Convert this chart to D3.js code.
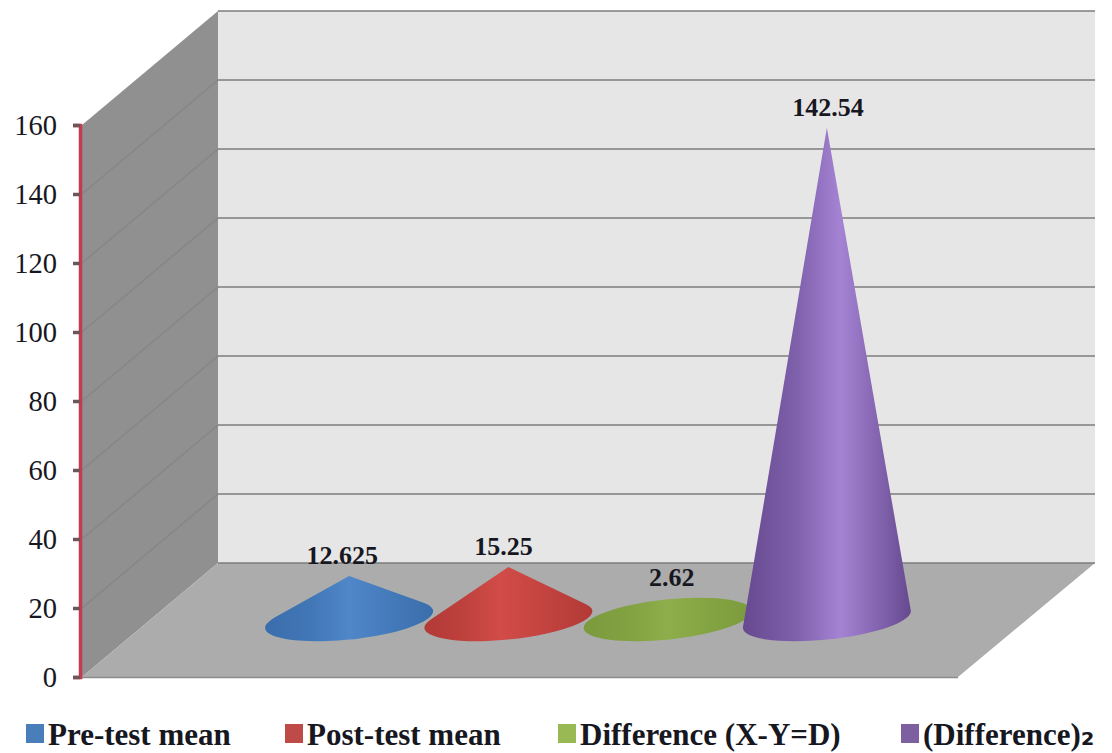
<!DOCTYPE html>
<html>
<head>
<meta charset="utf-8">
<script src="https://cdn.jsdelivr.net/npm/d3@7"></script>
<style>
  html, body { margin: 0; background: #fff; }
  svg { display: block; }
  text { font-family: "Liberation Serif", serif; fill: #17171f; }
  .tick-label { font-size: 28.5px; }
  .value-label { font-size: 26px; font-weight: bold; }
  .legend-label { font-size: 31px; font-weight: bold; }
  .legend-sub { font-family: "DejaVu Sans", sans-serif; }
</style>
</head>
<body>
<svg></svg>
<script>
const seriesNames = ['Pre-test mean', 'Post-test mean', 'Difference (X-Y=D)', '(Difference)₂'];
const seriesValues = [12.625, 15.25, 2.62, 142.54];
const valueLabels = ['12.625', '15.25', '2.62', '142.54'];
const yTicks = [0, 20, 40, 60, 80, 100, 120, 140, 160];

const edgeColors = ['#3a6dab', '#b23a37', '#7a9a3c', '#66498f'];
const midColors = ['#4f87c9', '#d24c48', '#8eae4b', '#a583d4'];
const swatchColors = ['#4a7ebb', '#be4b48', '#98b954', '#7d60a0'];
const highlightAt = [50, 45, 50, 58];
const labelNudge = [-7, -5, 4, 1];
const legendLeft = [26, 285, 558, 901];

const svgWidth = 1112;
const svgHeight = 753;

const svg = d3.select('svg')
    .attr('width', svgWidth)
    .attr('height', svgHeight);

// the value scale at the three depths of the box
const yFront = d3.scaleLinear().domain([0, 160]).range([677, 125]);
const yBack = d3.scaleLinear().domain([0, 160]).range([563, 11]);
const yMid = d3.scaleLinear().domain([0, 160]).range([619.5, 67.5]);

const frontLeft = 82;
const frontRight = 958;
const backLeft = 218;
const backRight = 1095;

const xScale = d3.scaleBand()
    .domain(seriesNames)
    .range([269.5, 906.5]);

const polygon = (pts) => 'M' + pts.join('L') + 'Z';

// side wall
svg.append('path')
    .attr('d', polygon([
      [frontLeft, yFront(160)], [backLeft, yBack(160)],
      [backLeft, yBack(0)], [frontLeft, yFront(0)]
    ]))
    .attr('fill', '#909090');

// back wall
svg.append('path')
    .attr('d', polygon([
      [backLeft, yBack(160)], [backRight, yBack(160)],
      [backRight, yBack(0)], [backLeft, yBack(0)]
    ]))
    .attr('fill', '#e6e6e6');

// floor
svg.append('path')
    .attr('d', polygon([
      [frontLeft, yFront(0)], [backLeft, yBack(0)],
      [backRight, yBack(0)], [frontRight, yFront(0)]
    ]))
    .attr('fill', '#acacac');

svg.append('line')
    .attr('x1', frontLeft)
    .attr('x2', frontRight)
    .attr('y1', yFront(0) + 0.5)
    .attr('y2', yFront(0) + 0.5)
    .attr('stroke', '#8c8c8c')
    .attr('stroke-width', 1.5);

// gridlines
svg.selectAll('.side-grid')
    .data(yTicks.slice(1, -1))
    .enter()
    .append('line')
    .attr('class', 'side-grid')
    .attr('x1', frontLeft)
    .attr('y1', (d) => yFront(d))
    .attr('x2', backLeft)
    .attr('y2', (d) => yBack(d))
    .attr('stroke', '#868686')
    .attr('stroke-width', 1.5);

svg.selectAll('.back-grid')
    .data(yTicks)
    .enter()
    .append('line')
    .attr('class', 'back-grid')
    .attr('x1', backLeft)
    .attr('y1', (d) => yBack(d))
    .attr('x2', backRight)
    .attr('y2', (d) => yBack(d))
    .attr('stroke', '#7d7d7d')
    .attr('stroke-width', 1.6);

// y axis
const yAxis = svg.append('g')
    .attr('transform', 'translate(80, 0)')
    .call(d3.axisLeft(yFront).tickValues(yTicks).tickSize(7).tickPadding(16).tickFormat(d3.format('d')));

yAxis.select('.domain')
    .attr('stroke', '#c23b4e')
    .attr('stroke-width', 3.5);

yAxis.selectAll('.tick line')
    .attr('stroke', '#6e5558')
    .attr('stroke-width', 3.5);

yAxis.selectAll('.tick text')
    .attr('class', 'tick-label');

yAxis.attr('font-size', null).attr('font-family', null);

// cones
const defs = svg.append('defs');

seriesNames.forEach((name, i) => {
  const grad = defs.append('linearGradient')
      .attr('id', 'cone' + i)
      .attr('x1', '0%')
      .attr('x2', '100%')
      .attr('y1', '0%')
      .attr('y2', '0%');
  grad.append('stop').attr('offset', '0%').attr('stop-color', edgeColors[i]);
  grad.append('stop').attr('offset', (highlightAt[i] * 0.55) + '%')
      .attr('stop-color', d3.interpolateRgb(edgeColors[i], midColors[i])(0.4));
  grad.append('stop').attr('offset', highlightAt[i] + '%').attr('stop-color', midColors[i]);
  grad.append('stop').attr('offset', '100%').attr('stop-color', edgeColors[i]);
});

const baseRx = xScale.bandwidth() * 0.53;
const baseRy = 20;
const tilt = 6 * Math.PI / 180;

function conePath(name, value) {
  const cx = xScale(name) + xScale.bandwidth() / 2;
  const cy = yMid(0);
  const h = cy - yMid(value);
  const arc = `A${baseRx},${baseRy} -6 1 0 `;

  // tip in the ellipse's own tilted frame, measured in radii
  const u = h * Math.sin(tilt) / baseRx;
  const v = -h * Math.cos(tilt) / baseRy;
  const dist = Math.hypot(u, v);

  const onBase = (t) => {
    const x = baseRx * Math.cos(t);
    const y = baseRy * Math.sin(t);
    return [
      cx + x * Math.cos(tilt) + y * Math.sin(tilt),
      cy - x * Math.sin(tilt) + y * Math.cos(tilt)
    ];
  };

  // a very flat cone has its tip inside the base, only the ellipse shows
  if (dist <= 1) {
    const a = onBase(Math.PI);
    const b = onBase(0);
    return `M${a}A${baseRx},${baseRy} -6 0 0 ${b}A${baseRx},${baseRy} -6 0 0 ${a}Z`;
  }

  const phi = Math.atan2(v, u);
  const spread = Math.acos(1 / dist);
  return `M${onBase(phi - spread)}${arc}${onBase(phi + spread)}L${cx},${yMid(value)}Z`;
}

svg.selectAll('.cone')
    .data(seriesNames)
    .enter()
    .append('path')
    .attr('class', 'cone')
    .attr('d', (d, i) => conePath(d, seriesValues[i]))
    .attr('fill', (d, i) => `url(#cone${i})`);

// value labels
svg.selectAll('.value-label')
    .data(seriesNames)
    .enter()
    .append('text')
    .attr('class', 'value-label')
    .attr('text-anchor', 'middle')
    .attr('x', (d, i) => xScale(d) + xScale.bandwidth() / 2 + labelNudge[i])
    .attr('y', (d, i) => Math.min(yMid(seriesValues[i]), yMid(0) - 22) - 12)
    .text((d, i) => valueLabels[i]);

// legend
const legend = svg.selectAll('.legend')
    .data(seriesNames)
    .enter()
    .append('g')
    .attr('class', 'legend')
    .attr('transform', (d, i) => `translate(${legendLeft[i]}, 724)`);

legend.append('rect')
    .attr('width', 18)
    .attr('height', 19)
    .attr('fill', (d, i) => swatchColors[i]);

const legendText = legend.append('text')
    .attr('class', 'legend-label')
    .attr('x', 22)
    .attr('y', 21);

// the serif font draws the subscript too thin, so it gets its own font
legendText.append('tspan').text((d) => d.replace('₂', ''));
legendText.filter((d) => d.includes('₂'))
    .append('tspan')
    .attr('class', 'legend-sub')
    .text('₂');
</script>
</body>
</html>
